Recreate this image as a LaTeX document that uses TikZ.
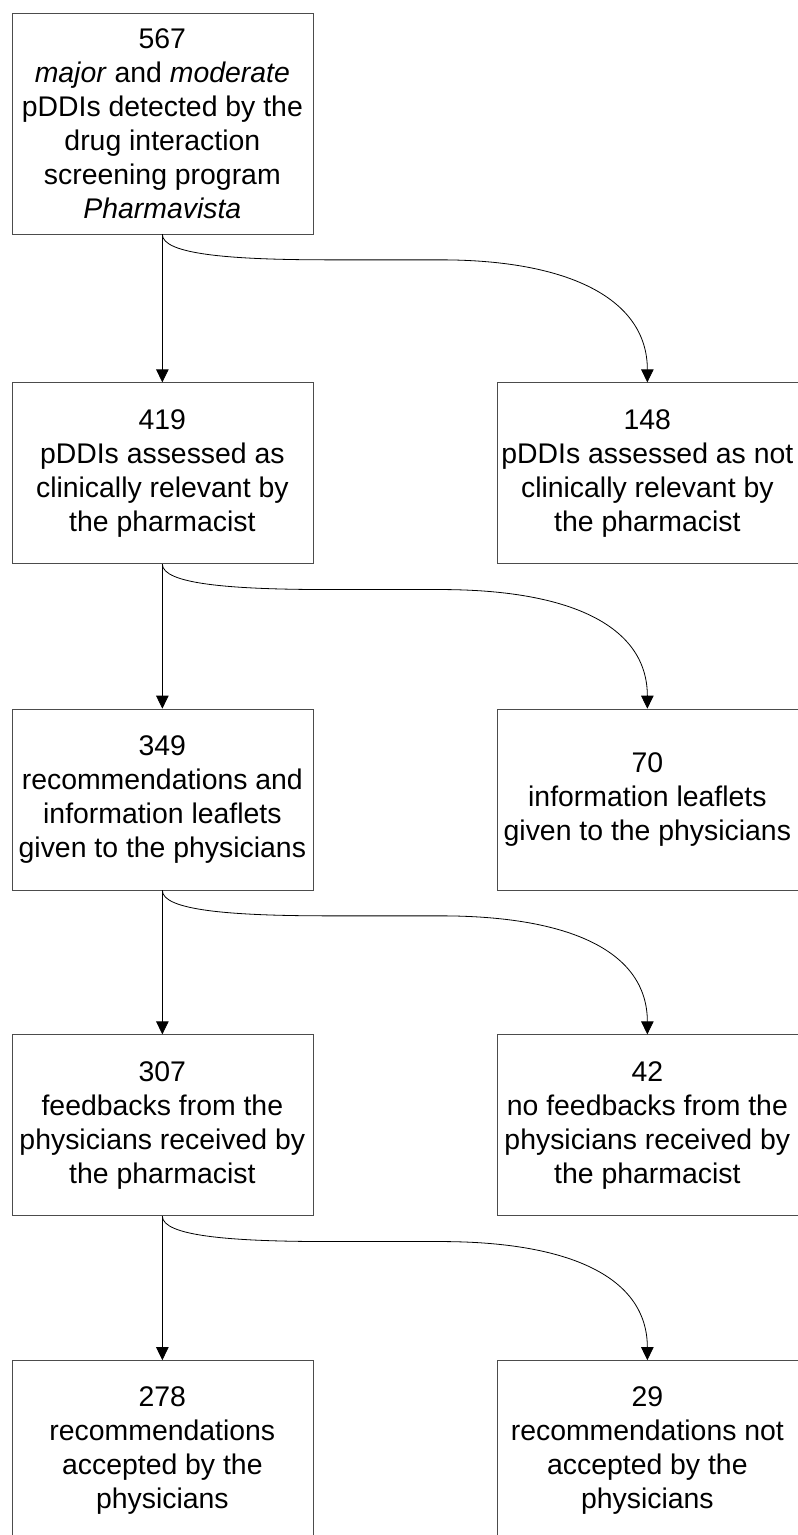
\documentclass[tikz,border=0pt]{standalone}
\usepackage{fontspec}
\setmainfont{Liberation Sans}
\usetikzlibrary{arrows.meta,calc}
\tikzset{
  box/.style={draw=black!70, line width=0.7pt, inner sep=0pt, align=center,
    minimum width=301pt, minimum height=181pt,
    font=\fontsize{28.4}{34}\selectfont},
  arr/.style={draw=black, line width=0.8pt, -{Triangle[width=12.5pt,length=13pt]}},
}
\newcommand{\branch}[2]{%
  \draw[arr] (#1.south) .. controls ($(#1.south)+(0,20)$) and ($(#1.south)+(68,25.5)$) ..
    ($(#1.south)+(168,25.5)$) -- ($(#1.south)+(278,25.5)$)
    .. controls ($(#1.south)+(408,25.5)$) and ($(#2.north)+(0,-82.7)$) .. (#2.north);}
\begin{document}
\begin{tikzpicture}[x=1pt,y=-1pt]
\useasboundingbox (0,0) rectangle (798,1535);
\node[box, minimum height=221pt] (n567) at (162.35,123.5)
  {567\\\textit{major} and \textit{moderate}\\pDDIs detected by the\\drug interaction\\screening program\\\textit{Pharmavista}};
\node[box] (n419) at (162.35,473.2) {419\\pDDIs assessed as\\clinically relevant by\\the pharmacist};
\node[box] (n148) at (647.35,473.2) {148\\pDDIs assessed as not\\clinically relevant by\\the pharmacist};
\node[box] (n349) at (162.35,799.5) {349\\recommendations and\\information leaflets\\given to the physicians};
\node[box] (n70) at (647.35,799.5) {70\\information leaflets\\given to the physicians};
\node[box] (n307) at (162.35,1125.2) {307\\feedbacks from the\\physicians received by\\the pharmacist};
\node[box] (n42) at (647.35,1125.2) {42\\no feedbacks from the\\physicians received by\\the pharmacist};
\node[box] (n278) at (162.35,1451) {278\\recommendations\\accepted by the\\physicians};
\node[box] (n29) at (647.35,1451) {29\\recommendations not\\accepted by the\\physicians};
\draw[arr] (n567) -- (n419);
\draw[arr] (n419) -- (n349);
\draw[arr] (n349) -- (n307);
\draw[arr] (n307) -- (n278);
\branch{n567}{n148}
\branch{n419}{n70}
\branch{n349}{n42}
\branch{n307}{n29}
\end{tikzpicture}
\end{document}
